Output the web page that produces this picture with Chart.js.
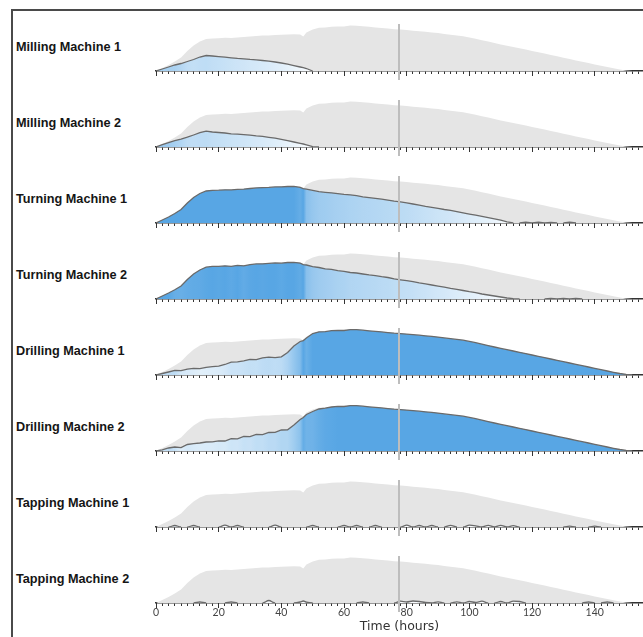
<!DOCTYPE html>
<html>
<head>
<meta charset="utf-8">
<script src="https://cdn.jsdelivr.net/npm/chart.js@4.4.1/dist/chart.umd.min.js"></script>
<style>
  html, body { margin: 0; padding: 0; background: #fff; }
  body { width: 643px; height: 637px; position: relative; overflow: hidden; }
  #frame { position: absolute; left: 11px; top: 9px; width: 700px; height: 700px;
           border-top: 2px solid #4a4a4a; border-left: 2px solid #4a4a4a; }
  .lbl { position: absolute; left: 16px; font: bold 12.7px "Liberation Sans", Arial, sans-serif;
         color: #151515; line-height: 14px; white-space: nowrap; }
  canvas { position: absolute; left: 140px; }
</style>
</head>
<body>
<div id="frame"></div>
<script>
// Sample times (hours)
const hours = [
  0, 2, 4, 6, 8, 10, 12, 14, 16, 18, 20, 22,
  24, 26, 28, 30, 32, 34, 36, 38, 40, 42, 44, 46,
  47, 48, 50, 52, 54, 56, 58, 60, 62, 64,
  66, 68, 70, 72, 74, 76, 78, 80, 82, 84,
  86, 88, 90, 92, 94, 96, 98, 100, 102, 104,
  106, 108, 110, 112, 114, 116, 118, 120, 122, 124,
  126, 128, 130, 132, 134, 136, 138, 140, 142, 144, 146, 148, 150, 152
];

// Whole-shop load (grey envelope)
const totalLoad = [
  0, 3, 6, 9.5, 13.5, 20, 25.5, 29.5, 32, 32.6, 32.8, 33.2,
  33.1, 33.6, 33.9, 34.5, 35.1, 35.4, 35.6, 36.1, 36.2, 36.5, 36.7, 36.6,
  34.4, 38.5, 41.5, 43.2, 43.4, 44.3, 44.6, 44.5, 45.4, 45.3,
  44.8, 44.2, 43.6, 43.1, 42.4, 41.8, 41.4, 40.9, 40.3, 39.8,
  39.2, 38.6, 37.9, 37.1, 36.3, 35.6, 34.8, 33.6, 32.3, 30.8,
  29.4, 28, 26.6, 25.3, 24, 22.7, 21.4, 20, 18.7, 17.4,
  16, 14.7, 13.3, 12, 10.6, 9.3, 8, 6.6, 5.3, 4, 2.7, 1.5, 0.5, 0
];

const milling1 = [
  0, 2, 4, 6, 7.5, 9.5, 11.5, 14, 15.5, 15, 14.4, 13.8,
  13.2, 12.6, 12.2, 11.6, 11.2, 10.5, 9.8, 9, 8, 6.8, 5.4, 4,
  3.3, 2.5, 0, 0, 0, 0, 0, 0, 0, 0,
  0, 0, 0, 0, 0, 0, 0, 0, 0, 0,
  0, 0, 0, 0, 0, 0, 0, 0, 0, 0,
  0, 0, 0, 0, 0, 0, 0, 0, 0, 0,
  0, 0, 0, 0, 0, 0, 0, 0, 0, 0, 0, 0, 0, 0
];

const milling2 = [
  0, 2.3, 4.3, 6.3, 7.8, 9.8, 12, 14.3, 15.8, 15, 14.5, 14,
  13.2, 12.9, 12.3, 11.8, 11.1, 10.6, 9.7, 8.8, 7.7, 6.4, 5, 3.7,
  3, 2.2, 0.4, 0, 0, 0, 0, 0, 0, 0,
  0, 0, 0, 0, 0, 0, 0, 0, 0, 0,
  0, 0, 0, 0, 0, 0, 0, 0, 0, 0,
  0, 0, 0, 0, 0, 0, 0, 0, 0, 0,
  0, 0, 0, 0, 0, 0, 0, 0, 0, 0, 0, 0, 0, 0
];

const turning1 = [
  0, 3, 6, 9.5, 13.5, 20, 25.5, 29.5, 32, 32.6, 32.8, 33.2,
  33.1, 33.6, 33.9, 34.5, 35.1, 35.4, 35.6, 36.1, 36.2, 36.5, 36.7, 35.6,
  34.4, 33.8, 32.6, 31.3, 30.7, 30.2, 29.4, 28.6, 28.2, 27.3,
  26.2, 25.4, 24.6, 23.8, 22.9, 21.9, 21.1, 20.1, 19, 17.8,
  16.6, 15.6, 14.6, 13.5, 12.6, 11.3, 10.1, 8.9, 7.8, 6.6,
  5.4, 4.2, 2.8, 1.2, 0, 0, 0.8, 0, 0.8, 0,
  0.6, 0, 0, 0.8, 0, 0, 0, 0, 0, 0, 0, 0, 0, 0
];

const turning2 = [
  0, 3, 6, 9.2, 13, 19.5, 25, 29, 31.8, 32.6, 32.6, 33.2,
  32.7, 33.6, 33.2, 34.3, 35.1, 35.2, 35.6, 36.1, 35.8, 36.5, 36.7, 35.9,
  34.4, 34, 32.4, 31.5, 30.2, 29.6, 28.3, 27.6, 26.5, 26,
  25, 24.1, 23.4, 22.3, 21.5, 20.2, 19.2, 18.3, 17.4, 16.1,
  15.2, 14, 12.9, 11.9, 10.6, 9.7, 8.5, 7.3, 6.4, 5,
  4, 3, 2, 1, 0.4, 0, 0, 0, 0, 0,
  0.7, 0, 0.7, 0, 0.7, 0, 0, 0, 0, 0, 0, 0, 0, 0
];

const drilling1 = [
  0, 1.5, 3, 4.6, 4.3, 5.8, 6.7, 6.4, 7.7, 8.3, 8.8, 10.5,
  12.8, 13.2, 14.1, 15.6, 15.4, 17.2, 17.8, 17.4, 18.2, 22.5, 29, 33.5,
  34.4, 37, 41.5, 43.2, 43.4, 44.3, 44.6, 44.5, 45.4, 45.3,
  44.8, 44.2, 43.6, 43.1, 42.4, 41.8, 41.4, 40.9, 40.3, 39.8,
  39.2, 38.6, 37.9, 37.1, 36.3, 35.6, 34.8, 33.6, 32.3, 30.8,
  29.4, 28, 26.6, 25.3, 24, 22.7, 21.4, 20, 18.7, 17.4,
  16, 14.7, 13.3, 12, 10.6, 9.3, 8, 6.6, 5.3, 4, 2.7, 1.5, 0.5, 0
];

const drilling2 = [
  0, 1.2, 3, 4, 3.3, 6.5, 7.3, 8, 9, 9.2, 10.2, 10,
  12.3, 12.1, 14.5, 14.3, 16.5, 16.4, 18.5, 18.6, 21, 21.2, 26, 31.5,
  33.5, 36.5, 39.5, 42, 42.8, 44, 44.6, 44.5, 45.4, 45.3,
  44.8, 44.2, 43.6, 43.1, 42.4, 41.8, 41.4, 40.9, 40.3, 39.8,
  39.2, 38.6, 37.9, 37.1, 36.3, 35.6, 34.8, 33.6, 32.3, 30.8,
  29.4, 28, 26.6, 25.3, 24, 22.7, 21.4, 20, 18.7, 17.4,
  16, 14.7, 13.3, 12, 10.6, 9.3, 8, 6.6, 5.3, 4, 2.7, 1.5, 0.5, 0
];

const tapping1 = [
  0, 0, 0, 1.5, 0, 0, 1.5, 0, 0, 0, 0, 1.8,
  0, 1.5, 0, 0, 0, 0, 0, 1.8, 0, 0, 0, 0,
  0, 0, 1.5, 0, 0, 0, 0, 1.5, 0, 1.5,
  0, 0, 1.5, 0, 0, 0, 0, 1.8, 0, 1.5,
  0, 1.5, 0, 0, 1.6, 0, 0, 1.8, 1.2, 0,
  1.6, 0, 1.6, 0, 1.4, 0, 0, 0, 0, 0,
  0, 0, 0, 0.8, 0, 0, 0, 0.8, 0, 0, 0, 0, 0, 0
];

const tapping2 = [
  0, 0, 0, 0, 0, 0, 0, 1, 0, 0, 0, 0,
  1, 0, 0, 0, 0, 0, 2.5, 0, 0, 0, 0, 1,
  2, 0.8, 0, 0, 0, 0, 0, 0, 0, 0,
  1, 0, 0, 0, 0, 0, 1.8, 1, 2, 1.5,
  0.5, 0, 1.2, 0, 0, 1.2, 0, 1.5, 0.5, 1.8,
  0, 0, 1.5, 0, 1.8, 1.5, 0, 0, 0, 0,
  0, 0, 0, 0, 0, 0, 1, 0, 0, 1, 0, 0, 0, 0
];

const machineNames = [
  'Milling Machine 1', 'Milling Machine 2',
  'Turning Machine 1', 'Turning Machine 2',
  'Drilling Machine 1', 'Drilling Machine 2',
  'Tapping Machine 1', 'Tapping Machine 2'
];
const machineSeries = [milling1, milling2, turning1, turning2, drilling1, drilling2, tapping1, tapping2];

const nowHour = 77.5;                               // current-time marker
const tickLabels = [0, 20, 40, 60, 80, 100, 120, 140];
const minorTicks = Array.from({ length: 78 }, (_, i) => i * 2);
const X_MAX = 155.4;

// ---- drawing helpers ----
const FULL_BLUE = [88, 166, 228];
function shade(ratio) {
  const r = Math.max(0, Math.min(1, ratio));
  const t = r < 0.9 ? r * 0.8 : 0.72 + (r - 0.9) * 2.8;
  const c = FULL_BLUE.map(v => Math.round(255 + (v - 255) * t));
  return `rgb(${c[0]},${c[1]},${c[2]})`;
}

function shareAt(values, i) {
  if (totalLoad[i] > 0) return values[i] / totalLoad[i];
  const j = i + 1 < values.length ? i + 1 : i - 1;
  return totalLoad[j] > 0 ? values[j] / totalLoad[j] : 0;
}

// Horizontal gradient: deeper blue where the machine carries more of the total load
function shareFill(values) {
  return (ctx) => {
    const chart = ctx.chart;
    const area = chart.chartArea;
    if (!area) return null;
    const xs = chart.scales.x;
    const w = area.right - area.left;
    const g = chart.ctx.createLinearGradient(area.left, 0, area.right, 0);
    hours.forEach((h, i) => {
      const off = Math.min(1, Math.max(0, (xs.getPixelForValue(h) - area.left) / w));
      g.addColorStop(off, shade(shareAt(values, i)));
    });
    return g;
  };
}

const nowLine = {
  id: 'nowLine',
  afterDatasetsDraw(chart) {
    const { ctx, chartArea, scales } = chart;
    const x = Math.round(scales.x.getPixelForValue(nowHour));
    ctx.save();
    ctx.strokeStyle = '#bdbdbd';
    ctx.lineWidth = 2;
    ctx.beginPath();
    ctx.moveTo(x, chartArea.top + 3);
    ctx.lineTo(x, chartArea.bottom + 9);
    ctx.stroke();
    ctx.restore();
  }
};

// ---- build the rows ----
const ROW0 = 71, ROW_STEP = 76;
machineSeries.forEach((values, r) => {
  const base = ROW0 + r * ROW_STEP;
  const last = r === machineSeries.length - 1;
  const smooth = r >= 6;

  const lbl = document.createElement('div');
  lbl.className = 'lbl';
  lbl.style.top = (base - 31) + 'px';
  lbl.textContent = machineNames[r];
  document.body.appendChild(lbl);

  const cv = document.createElement('canvas');
  const axisH = last ? 34 : 12;
  cv.width = 503;
  cv.height = 52 + axisH;
  cv.style.top = (base - 52) + 'px';
  document.body.appendChild(cv);

  new Chart(cv, {
    type: 'line',
    data: {
      datasets: [
        {
          data: hours.map((h, i) => ({ x: h, y: values[i] })),
          borderColor: '#6a6a6a',
          borderWidth: 1.3,
          backgroundColor: shareFill(values),
          fill: 'origin',
          pointRadius: 0,
          tension: smooth ? 0.4 : 0,
          cubicInterpolationMode: smooth ? 'monotone' : 'default',
          segment: {
            borderColor: c => (c.p0.parsed.y === 0 && c.p1.parsed.y === 0) ? 'rgba(0,0,0,0)' : undefined
          },
          order: 1
        },
        {
          data: hours.map((h, i) => ({ x: h, y: totalLoad[i] })),
          borderWidth: 0,
          borderColor: 'rgba(0,0,0,0)',
          backgroundColor: '#e5e5e5',
          fill: 'origin',
          pointRadius: 0,
          tension: 0,
          order: 2
        }
      ]
    },
    options: {
      responsive: false,
      animation: false,
      devicePixelRatio: 1,
      events: [],
      layout: { padding: { left: 16, top: 2, right: 0, bottom: 0 } },
      plugins: { legend: { display: false }, tooltip: { enabled: false } },
      scales: {
        x: {
          type: 'linear', min: 0, max: X_MAX, position: 'bottom',
          afterBuildTicks: s => { s.ticks = minorTicks.map(v => ({ value: v })); },
          afterFit: s => { s.height = axisH; },
          grid: { drawOnChartArea: false, tickLength: 3, tickColor: '#333', tickWidth: 1 },
          border: { color: '#333', width: 1.5 },
          ticks: {
            display: last, autoSkip: false, maxRotation: 0, minRotation: 0, padding: 0,
            color: '#444', font: { family: 'Lato', size: 10.5 },
            callback: v => tickLabels.includes(v) ? String(v) : ''
          },
          title: {
            display: last, text: 'Time (hours)', color: '#333',
            font: { family: 'DejaVu Sans', size: 12.5 }, padding: { top: 0, bottom: 3 }
          }
        },
        xMajor: {
          type: 'linear', axis: 'x', min: 0, max: X_MAX, position: { y: 0 },
          afterBuildTicks: s => { s.ticks = tickLabels.map(v => ({ value: v })); },
          grid: { drawOnChartArea: false, tickLength: 5, tickColor: '#333', tickWidth: 1 },
          border: { display: false },
          ticks: { display: false }
        },
        y: { display: false, min: 0, max: 50 }
      }
    },
    plugins: [nowLine]
  });
});
</script>
</body>
</html>
